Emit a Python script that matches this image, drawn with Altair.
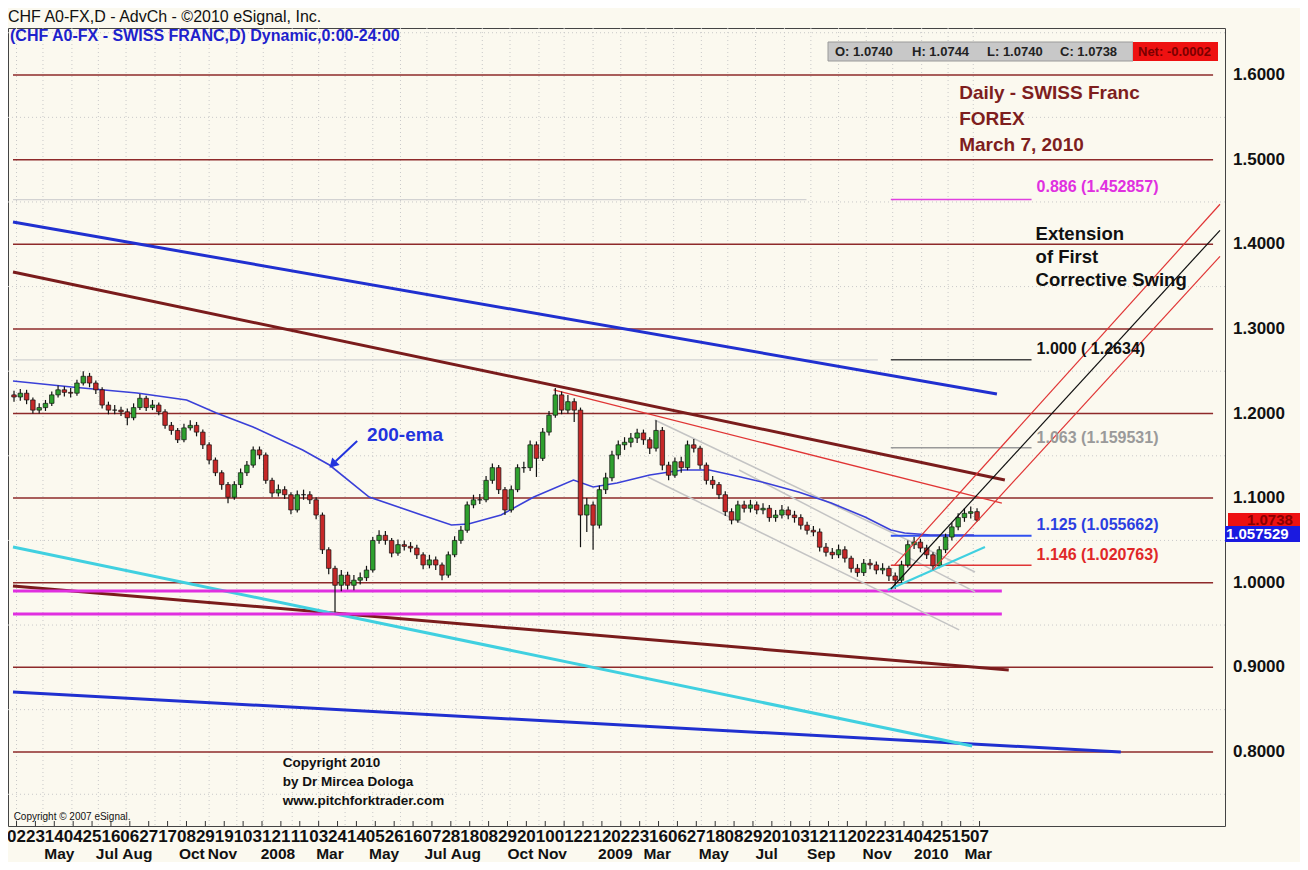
import altair as alt
import pandas as pd

FONT = "Liberation Sans"
BG = "#FBF9EF"

# ---------------- data ----------------
# weekly candles, bar k sits at trading-day index bar_start + 5k
bar_start = -2
bar_step = 5
first_open = 1.222
closes = [1.2195,1.224,1.216,1.204,1.207,1.212,1.222,1.228,1.225,1.224,
          1.236,1.244,1.236,1.228,1.210,1.204,1.204,1.202,1.195,1.207,
          1.218,1.207,1.210,1.202,1.186,1.180,1.169,1.183,1.186,1.178,
          1.163,1.145,1.130,1.116,1.101,1.116,1.130,1.139,1.157,1.151,
          1.121,1.106,1.110,1.104,1.086,1.104,1.104,1.098,1.080,1.039,
          1.017,0.997,1.009,0.997,1.003,1.006,1.015,1.050,1.056,1.050,
          1.035,1.045,1.043,1.041,1.033,1.021,1.027,1.021,1.009,1.033,
          1.050,1.062,1.092,1.098,1.098,1.121,1.136,1.110,1.086,1.110,
          1.136,1.136,1.163,1.147,1.178,1.198,1.222,1.204,1.214,1.204,
          1.080,1.092,1.068,1.110,1.124,1.151,1.163,1.166,1.171,1.177,
          1.169,1.159,1.180,1.139,1.127,1.143,1.136,1.163,1.159,1.139,
          1.121,1.116,1.104,1.084,1.074,1.092,1.088,1.092,1.086,1.088,
          1.077,1.080,1.086,1.080,1.077,1.068,1.062,1.060,1.042,1.036,
          1.033,1.039,1.029,1.017,1.012,1.023,1.021,1.015,1.017,1.008,
          1.003,1.021,1.045,1.048,1.041,1.033,1.020,1.039,1.054,1.066,
          1.077,1.082,1.084,1.074]
highs = [1.227,1.229,1.228,1.219,1.212,1.216,1.226,1.233,1.232,1.230,
         1.240,1.250,1.248,1.239,1.231,1.214,1.210,1.208,1.206,1.212,
         1.223,1.221,1.216,1.213,1.205,1.190,1.183,1.188,1.192,1.190,
         1.181,1.166,1.148,1.133,1.119,1.120,1.135,1.144,1.161,1.161,
         1.154,1.124,1.116,1.114,1.107,1.109,1.110,1.108,1.101,1.083,
         1.042,1.020,1.015,1.013,1.009,1.012,1.020,1.054,1.062,1.061,
         1.053,1.051,1.050,1.048,1.045,1.036,1.033,1.031,1.024,1.037,
         1.055,1.067,1.096,1.104,1.105,1.126,1.141,1.139,1.113,1.115,
         1.140,1.143,1.168,1.167,1.183,1.203,1.230,1.226,1.222,1.218,
         1.207,1.100,1.096,1.115,1.130,1.156,1.168,1.172,1.177,1.182,
         1.181,1.172,1.192,1.184,1.143,1.148,1.149,1.168,1.170,1.162,
         1.142,1.126,1.119,1.108,1.088,1.097,1.097,1.098,1.096,1.094,
         1.092,1.086,1.092,1.090,1.085,1.081,1.072,1.067,1.064,1.047,
         1.041,1.045,1.043,1.032,1.022,1.028,1.028,1.025,1.023,1.020,
         1.012,1.026,1.050,1.054,1.052,1.045,1.036,1.043,1.058,1.071,
         1.082,1.088,1.090,1.088]
lows = [1.214,1.215,1.211,1.200,1.200,1.203,1.209,1.219,1.220,1.219,
        1.221,1.233,1.231,1.223,1.206,1.199,1.199,1.197,1.186,1.192,
        1.204,1.203,1.204,1.198,1.182,1.175,1.165,1.166,1.180,1.173,
        1.158,1.140,1.126,1.110,1.094,1.098,1.112,1.126,1.136,1.146,
        1.117,1.101,1.102,1.099,1.081,1.083,1.098,1.093,1.075,1.034,
        1.010,0.965,0.990,0.992,0.991,0.998,1.002,1.012,1.046,1.045,
        1.030,1.032,1.038,1.036,1.028,1.016,1.017,1.015,1.003,1.006,
        1.030,1.046,1.059,1.088,1.093,1.095,1.117,1.105,1.080,1.083,
        1.107,1.130,1.132,1.125,1.144,1.174,1.195,1.199,1.200,1.190,
        1.042,1.060,1.039,1.064,1.105,1.120,1.146,1.157,1.160,1.165,
        1.163,1.152,1.155,1.133,1.121,1.124,1.130,1.133,1.154,1.134,
        1.116,1.111,1.099,1.079,1.069,1.071,1.083,1.083,1.081,1.081,
        1.072,1.072,1.076,1.075,1.071,1.063,1.057,1.055,1.037,1.031,
        1.028,1.029,1.024,1.012,1.007,1.008,1.016,1.010,1.010,1.002,
        0.993,0.999,1.018,1.040,1.036,1.028,1.014,1.017,1.035,1.050,
        1.062,1.072,1.076,1.072]

# 200-period EMA
ema_d = [-2.8, 43.7, 95.7, 135.1, 158.8, 187.9, 227.3, 248.6, 280.1, 321.8,
         345.5, 358.9, 384.9, 410.9, 442.4, 458.1, 477.0, 503.0, 529.0, 550.3,
         568.4, 595.2, 621.2, 647.2, 674.0, 694.5, 705.5, 726.0, 760.6]
ema_p = [1.2384, 1.2313, 1.2242, 1.2160, 1.2006, 1.1840, 1.1569, 1.1391, 1.1013, 1.0801,
         1.0682, 1.0694, 1.0801, 1.1013, 1.1214, 1.1131, 1.1179, 1.1273, 1.1332, 1.1332,
         1.1273, 1.1179, 1.1072, 1.0942, 1.0777, 1.0623, 1.0588, 1.0564, 1.0564]

# price axis
y_ticks = [0.8, 0.9, 1.0, 1.1, 1.2, 1.3, 1.4, 1.5, 1.6]
y_minor = [0.75, 0.85, 0.95, 1.05, 1.15, 1.25, 1.35, 1.45, 1.55, 1.65]

# time axis (trading-day index, 0 = 02 Apr 2007)
day_labels = ["02","23","14","04","25","16","06","27","17","08","29","19","10","31",
              "21","11","03","24","14","05","26","16","07","28","18","08","29",
              "20","10","01","22","12","02","23","16","06","27","18","08","29",
              "20","10","31","21","12","02","23","14","04","25","15","07"]
day_step = 15
month_labels = ["May","Jul","Aug","Oct","Nov","2008","Mar","May","Jul","Aug","Oct","Nov",
                "2009","Mar","May","Jul","Sep","Nov","2010","Mar"]
month_label_d = [22, 63, 84, 129, 152, 194, 238, 280, 324, 345, 390, 414,
                 462, 498, 542, 587, 628, 672, 713, 753]
month_start_d = [0, 21, 44, 65, 87, 110, 130, 153, 175, 196, 219, 240, 261, 283, 305,
                 326, 349, 370, 392, 415, 435, 458, 480, 500, 522, 544, 565, 587, 610,
                 631, 653, 675, 696, 719, 740, 760]

# horizontal price levels
levels = [0.8, 0.9, 1.0, 1.1, 1.2, 1.3, 1.4, 1.5, 1.6]
levels_span = (-2.8, 950.5)

# drawn lines (d1, p1, d2, p2)
segments = {
    "faint_0886": (-2.8, 1.452857, 627.5, 1.452857),
    "faint_1000": (-2.8, 1.2634, 684.2, 1.2634),
    "blue_hi": (-2.8, 1.4263, 778.8, 1.2230),
    "blue_lo": (-2.8, 0.8709, 877.2, 0.8000),
    "brown_hi": (-2.8, 1.3672, 785.1, 1.1214),
    "brown_lo": (-2.8, 0.9962, 788.2, 0.8969),
    "cyan_lo": (-2.8, 1.0422, 759.1, 0.8071),
    "mag_1": (-2.8, 0.9903, 782.7, 0.9903),
    "mag_2": (-2.8, 0.9631, 782.7, 0.9631),
    "red_top": (426.6, 1.2278, 782.7, 1.0942),
    "gray_1": (507.0, 1.1923, 761.4, 1.0127),
    "gray_2": (573.9, 1.1332, 761.4, 0.9891),
    "gray_3": (501.5, 1.1250, 748.8, 0.9442),
    "fib_0886": (694.5, 1.452857, 806.3, 1.452857),
    "fib_1000": (694.5, 1.2634, 806.3, 1.2634),
    "fib_1063": (694.5, 1.159531, 806.3, 1.159531),
    "fib_1125": (694.5, 1.055662, 806.3, 1.055662),
    "fib_1146": (694.5, 1.020763, 806.3, 1.020763),
    "cyan_short": (692.1, 0.9914, 769.3, 1.0422),
    "fork_red_hi": (697.6, 1.0210, 956.0, 1.4473),
    "fork_black": (694.5, 0.9926, 956.0, 1.4165),
    "fork_red_lo": (727.6, 1.0151, 956.0, 1.3856),
}
seg_style = {
    "faint_0886": ("#D2D2D2", 1.2), "faint_1000": ("#D2D2D2", 1.2),
    "blue_hi": ("#2030D0", 3), "blue_lo": ("#2030D0", 3),
    "brown_hi": ("#7A1C1C", 3), "brown_lo": ("#7A1C1C", 3),
    "cyan_lo": ("#40D0E0", 3), "mag_1": ("#E030E0", 3), "mag_2": ("#E030E0", 3),
    "red_top": ("#E03535", 1.3),
    "gray_1": ("#C4C4C4", 1.5), "gray_2": ("#C4C4C4", 1.5), "gray_3": ("#C4C4C4", 1.5),
    "fib_0886": ("#E040E0", 1.5), "fib_1000": ("#444444", 1.5), "fib_1063": ("#999999", 1.5),
    "fib_1125": ("#3050F0", 2), "fib_1146": ("#E03535", 1.5),
    "cyan_short": ("#40D0E0", 2),
    "fork_red_hi": ("#E03535", 1.2), "fork_black": ("#111111", 1.2), "fork_red_lo": ("#E03535", 1.2),
}

last_price = 1.0738
ema_price = 1.057529

# ---------------- chart ----------------
W, H = 1217, 798
XS = alt.Scale(domain=[-2.8, 956.0], nice=False, zero=False)
YS = alt.Scale(domain=[0.7125, 1.6556], nice=False, zero=False)
one = pd.DataFrame({"k": [0]})


def X(f):
    return alt.X(f, type="quantitative", scale=XS, axis=None)


def Y(f):
    return alt.Y(f, type="quantitative", scale=YS, axis=None)


def XD(v):
    return alt.X(datum=v, type="quantitative", scale=XS, axis=None)


def YD(v):
    return alt.Y(datum=v, type="quantitative", scale=YS, axis=None)


layers = []

# dotted grid
layers.append(alt.Chart(pd.DataFrame({"p": y_minor})).mark_rule(
    color="#C9C9C9", strokeDash=[1, 3], strokeWidth=1).encode(y=Y("p")))
layers.append(alt.Chart(pd.DataFrame({"d": month_start_d})).mark_rule(
    color="#C9C9C9", strokeDash=[1, 3], strokeWidth=1).encode(x=X("d")))

# horizontal levels
lv = pd.DataFrame({"p": levels, "d1": levels_span[0], "d2": levels_span[1]})
layers.append(alt.Chart(lv).mark_rule(color="#8E2A2A", strokeWidth=1.5).encode(
    x=X("d1"), x2=alt.X2("d2"), y=Y("p")))

# drawn lines (before candles)
under = ["faint_0886", "faint_1000", "blue_hi", "blue_lo", "brown_hi", "brown_lo",
         "cyan_lo", "mag_1", "mag_2", "red_top", "gray_1", "gray_2", "gray_3",
         "fib_0886", "fib_1000", "fib_1063", "fib_1125", "fib_1146"]


def seg_layer(name):
    d1, p1, d2, p2 = segments[name]
    col, w = seg_style[name]
    df = pd.DataFrame({"d1": [d1], "p1": [p1], "d2": [d2], "p2": [p2]})
    return alt.Chart(df).mark_rule(color=col, strokeWidth=w, clip=True).encode(
        x=X("d1"), y=Y("p1"), x2=alt.X2("d2"), y2=alt.Y2("p2"))


for n in under:
    layers.append(seg_layer(n))

# EMA
layers.append(alt.Chart(pd.DataFrame({"d": ema_d, "p": ema_p})).mark_line(
    color="#3A40D8", strokeWidth=1.6).encode(x=X("d"), y=Y("p"), order="d:Q"))

# candles
opens = [first_open] + closes[:-1]
cd = pd.DataFrame({
    "d": [bar_start + bar_step * i for i in range(len(closes))],
    "o": opens, "c": closes, "h": highs, "l": lows,
})
cd["dir"] = ["up" if c >= o else "down" for o, c in zip(cd["o"], cd["c"])]
layers.append(alt.Chart(cd).mark_rule(color="#111111", strokeWidth=1.2).encode(
    x=X("d"), y=Y("l"), y2=alt.Y2("h")))
layers.append(alt.Chart(cd).mark_bar(size=4.5, stroke="#111111", strokeWidth=0.7).encode(
    x=X("d"), y=Y("o"), y2=alt.Y2("c"),
    color=alt.Color("dir:N", scale=alt.Scale(domain=["up", "down"], range=["#2EA02E", "#C62828"]),
                    legend=None)))

for n in ["cyan_short", "fork_red_hi", "fork_black", "fork_red_lo"]:
    layers.append(seg_layer(n))

# 200-ema arrow
layers.append(alt.Chart(pd.DataFrame({"d1": [270.6], "p1": [1.1675], "d2": [253.5], "p2": [1.1435]}))
              .mark_rule(color="#2233DD", strokeWidth=2).encode(
    x=X("d1"), y=Y("p1"), x2=alt.X2("d2"), y2=alt.Y2("p2")))
layers.append(alt.Chart(one).mark_point(shape="triangle", filled=True, size=110, angle=225,
                                        color="#2233DD", opacity=1).encode(x=XD(252.0), y=YD(1.1410)))


def text_block(lines, d, p, color, size, step, weight="bold", align="left"):
    out = []
    for i, ln in enumerate(lines):
        out.append(alt.Chart(one).mark_text(
            text=ln, dy=i * step, align=align, baseline="middle", font=FONT,
            fontWeight=weight, fontSize=size, color=color).encode(x=XD(d), y=YD(p)))
    return out


layers += text_block(["Daily - SWISS Franc", "FOREX", "March 7, 2010"], 748.8, 1.5787, "#7E1E1E", 19, 26)
layers += text_block(["0.886 (1.452857)"], 810.3, 1.4677, "#E030E0", 16, 0)
layers += text_block(["Extension", "of First", "Corrective Swing"], 809.5, 1.4121, "#111111", 18.5, 23)
layers += text_block(["1.000 ( 1.2634)"], 810.3, 1.2762, "#111111", 16, 0)
layers += text_block(["1.063 (1.159531)"], 810.3, 1.1711, "#9A9A9A", 16, 0)
layers += text_block(["1.125 (1.055662)"], 810.3, 1.0682, "#2B3FE0", 16, 0)
layers += text_block(["1.146 (1.020763)"], 810.3, 1.0328, "#E02828", 16, 0)
layers += text_block(["200-ema"], 278.5, 1.1746, "#2233DD", 19, 0)
layers += text_block(["Copyright 2010", "by Dr Mircea Dologa", "www.pitchforktrader.com"],
                     211.5, 0.7870, "#111111", 13.5, 19)
layers += text_block(["Copyright © 2007 eSignal."], -2.3, 0.7232, "#111111", 10, 0, weight="normal")

# header
layers.append(alt.Chart(one).mark_text(
    text="CHF A0-FX,D - AdvCh - ©2010 eSignal, Inc.", align="left", baseline="middle",
    font=FONT, fontSize=16, color="#111111").encode(x=alt.value(0), y=alt.value(-11)))
layers.append(alt.Chart(one).mark_text(
    text="(CHF A0-FX - SWISS FRANC,D) Dynamic,0:00-24:00", align="left", baseline="middle",
    font=FONT, fontSize=16, fontWeight="bold", color="#1E22CC").encode(x=alt.value(2), y=alt.value(8)))

# OHLC info bar
layers.append(alt.Chart(one).mark_rect(color="#C8C8C8", stroke="#9A9A9A", strokeWidth=1).encode(
    x=alt.value(820), x2=alt.value(1125), y=alt.value(14), y2=alt.value(33)))
layers.append(alt.Chart(one).mark_rect(color="#EE1111").encode(
    x=alt.value(1125), x2=alt.value(1210), y=alt.value(14), y2=alt.value(33)))
info_texts = ["O: 1.0740", "H: 1.0744", "L: 1.0740", "C: 1.0738"]
info_x = [827, 904, 979, 1052]
for t, xv in zip(info_texts, info_x):
    layers.append(alt.Chart(one).mark_text(
        text=t, align="left", baseline="middle", font=FONT, fontSize=13, fontWeight="bold",
        color="#222222").encode(x=alt.value(xv), y=alt.value(24)))
layers.append(alt.Chart(one).mark_text(
    text="Net: -0.0002", align="left", baseline="middle", font=FONT, fontSize=13, fontWeight="bold",
    color="#7A0000").encode(x=alt.value(1130), y=alt.value(24)))

# price axis labels on the right
layers.append(alt.Chart(pd.DataFrame({"p": y_ticks, "t": [f"{v:.4f}" for v in y_ticks]})).mark_text(
    align="left", baseline="middle", font=FONT, fontSize=17, fontWeight="bold", color="#111111"
).encode(x=alt.value(W + 8), y=Y("p"), text="t:N"))

# price tags
layers.append(alt.Chart(one).mark_rect(color="#EE1111").encode(
    x=alt.value(W + 3), x2=alt.value(W + 75), y=YD(last_price + 0.0085), y2=alt.Y2(datum=last_price - 0.009)))
layers.append(alt.Chart(one).mark_text(
    text=f"{last_price:.4f}", align="left", baseline="middle", font=FONT, fontSize=15, fontWeight="bold",
    color="#8A0000").encode(x=alt.value(W + 22), y=YD(last_price + 0.0005)))
layers.append(alt.Chart(one).mark_rect(color="#1A1AE0").encode(
    x=alt.value(W), x2=alt.value(W + 75), y=YD(ema_price + 0.0095), y2=alt.Y2(datum=ema_price - 0.0095)))
layers.append(alt.Chart(one).mark_text(
    text=f"{ema_price:.6f}", align="left", baseline="middle", font=FONT, fontSize=15, fontWeight="bold",
    color="#FFFFFF").encode(x=alt.value(W + 1), y=YD(ema_price)))

# time axis ticks and labels
dl = pd.DataFrame({"d": [day_step * i for i in range(len(day_labels))], "t": day_labels})
layers.append(alt.Chart(dl).mark_rule(color="#333333", strokeWidth=1).encode(
    x=X("d"), y=alt.value(H - 5), y2=alt.value(H)))
layers.append(alt.Chart(dl).mark_text(
    align="center", baseline="middle", font=FONT, fontSize=17, fontWeight="bold", color="#111111"
).encode(x=X("d"), y=alt.value(H + 11), text="t:N"))
ml = pd.DataFrame({"d": month_label_d, "t": month_labels})
layers.append(alt.Chart(ml).mark_text(
    align="left", baseline="middle", font=FONT, fontSize=15.5, fontWeight="bold", color="#111111"
).encode(x=X("d"), y=alt.value(H + 28), text="t:N"))

chart = alt.layer(*layers).properties(
    width=W, height=H,
    padding={"left": 0, "top": 20, "right": 75, "bottom": 36},
    autosize=alt.AutoSizeParams(type="none"),
    background=BG,
).configure_view(stroke="#444444", strokeWidth=1)

chart.save("out.html", embed_options={"renderer": "svg", "actions": False})
